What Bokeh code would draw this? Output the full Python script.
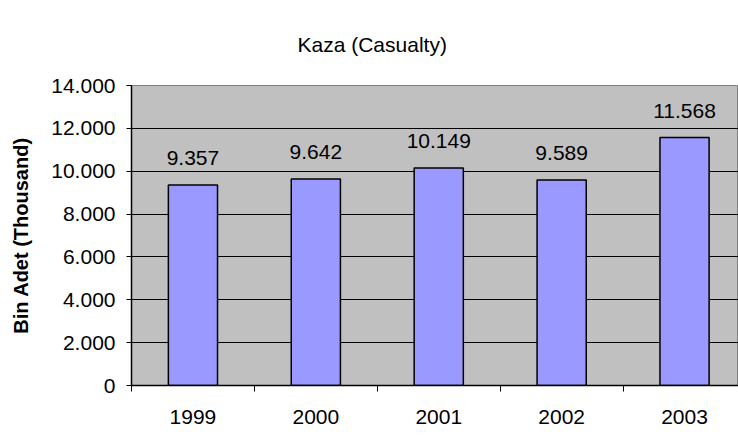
from bokeh.plotting import figure
from bokeh.models import Range1d, FixedTicker, ColumnDataSource, Title
from bokeh.embed import file_html
from bokeh.resources import INLINE

years = ["1999", "2000", "2001", "2002", "2003"]
values = [9357, 9642, 10149, 9589, 11568]
value_labels = ["9.357", "9.642", "10.149", "9.589", "11.568"]
y_ticks = [0, 2000, 4000, 6000, 8000, 10000, 12000, 14000]
y_tick_labels = ["0", "2.000", "4.000", "6.000", "8.000", "10.000", "12.000", "14.000"]
title_text = "Kaza (Casualty)"
y_title = "Bin Adet (Thousand)"

FONT = "Liberation Sans"

xs = [i + 0.5 for i in range(len(years))]
src = ColumnDataSource(dict(x=xs, top=values, lab=value_labels))

p = figure(width=738, height=435, output_backend="svg", toolbar_location=None,
           x_range=Range1d(0, 4.939), y_range=Range1d(0, 14000),
           min_border_left=131, min_border_right=0, min_border_top=85,
           min_border_bottom=50, background_fill_color="#C0C0C0",
           border_fill_color="white")
p.title = Title(text=title_text, text_font=FONT, text_font_size="21px",
                text_font_style="normal", text_color="black", align="left",
                offset=166, standoff=59)

p.outline_line_color = "#808080"
p.outline_line_width = 1

p.vbar(x="x", top="top", width=0.4, bottom=0, source=src,
       fill_color="#9999FF", line_color="black", line_width=1.5)
p.text(x="x", y="top", text="lab", source=src, text_align="center",
       text_baseline="middle", y_offset=-27, text_font_size="21px",
       text_color="black", text_font={"value": FONT})

# x axis
p.xaxis.ticker = FixedTicker(ticks=xs, minor_ticks=[0, 1, 2, 3, 4, 5])
p.xaxis.major_label_overrides = {x: y for x, y in zip(xs, years)}
p.xaxis.major_tick_out = 0
p.xaxis.major_tick_in = 0
p.xaxis.minor_tick_out = 6
p.xaxis.minor_tick_in = 0
p.xaxis.minor_tick_line_color = "black"
p.xaxis.axis_line_color = "black"
p.xaxis.axis_line_width = 1.5
p.xaxis.major_label_text_font = FONT
p.xaxis.major_label_text_font_size = "21px"
p.xaxis.major_label_text_color = "black"
p.xaxis.major_label_standoff = 18

# y axis
p.yaxis.ticker = FixedTicker(ticks=y_ticks, minor_ticks=[])
p.yaxis.major_label_overrides = {t: l for t, l in zip(y_ticks, y_tick_labels)}
p.yaxis.major_tick_out = 5
p.yaxis.major_tick_in = 0
p.yaxis.major_tick_line_color = "black"
p.yaxis.axis_line_color = "black"
p.yaxis.axis_line_width = 1.5
p.yaxis.major_label_text_font = FONT
p.yaxis.major_label_text_font_size = "21px"
p.yaxis.major_label_text_color = "black"
p.yaxis.major_label_standoff = 11
p.yaxis.axis_label = y_title
p.yaxis.axis_label_text_font = FONT
p.yaxis.axis_label_text_font_size = "20px"
p.yaxis.axis_label_text_font_style = "bold"
p.yaxis.axis_label_text_color = "black"
p.yaxis.axis_label_standoff = 16

p.xgrid.grid_line_color = None
p.ygrid.ticker = FixedTicker(ticks=y_ticks[1:-1])
p.ygrid.grid_line_color = "black"
p.ygrid.grid_line_width = 1

open("out.html", "w").write(file_html(p, INLINE))
